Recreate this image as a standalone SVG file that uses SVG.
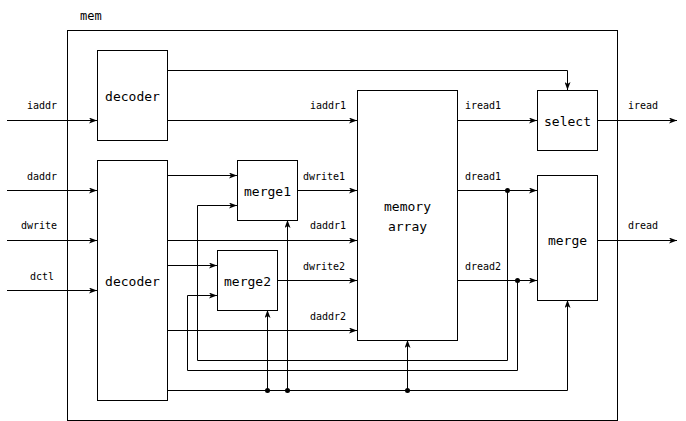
<svg xmlns="http://www.w3.org/2000/svg" width="686" height="421" viewBox="0 0 686 421">
<style>
.box{fill:#fff;stroke:#000;stroke-width:1}
.w{fill:none;stroke:#000;stroke-width:1}
.nt{font-family:"DejaVu Sans Mono",monospace;font-size:13px;text-anchor:middle;dominant-baseline:central;fill:#000}
.lb{font-family:"DejaVu Sans Mono",monospace;font-size:10px;fill:#000}
</style>
<defs>
<marker id="a" markerWidth="8" markerHeight="6" refX="8" refY="3" orient="auto" markerUnits="userSpaceOnUse">
<path d="M0,0 L8,3 L0,6 L2,3 Z" fill="#000"/>
</marker>
</defs>
<g id="mem">
<rect x="67.5" y="30.5" width="550" height="390" class="box"/>
<text x="80" y="20" class="lb" style="font-size:12px">mem</text>
</g>
<g id="connectors">
<path class="w" d="M7,120.5 H97" marker-end="url(#a)"/>
<path class="w" d="M7,190.5 H97" marker-end="url(#a)"/>
<path class="w" d="M7,240.5 H97" marker-end="url(#a)"/>
<path class="w" d="M7,290.5 H97" marker-end="url(#a)"/>
<path class="w" d="M167,70.5 H567.5 V90" marker-end="url(#a)"/>
<path class="w" d="M167,120.5 H357" marker-end="url(#a)"/>
<path class="w" d="M167,175.5 H237" marker-end="url(#a)"/>
<path class="w" d="M167,240.5 H357" marker-end="url(#a)"/>
<path class="w" d="M167,265.5 H217" marker-end="url(#a)"/>
<path class="w" d="M167,330.5 H357" marker-end="url(#a)"/>
<path class="w" d="M297,190.5 H357" marker-end="url(#a)"/>
<path class="w" d="M277,280.5 H357" marker-end="url(#a)"/>
<path class="w" d="M457,120.5 H537" marker-end="url(#a)"/>
<path class="w" d="M457,190.5 H537" marker-end="url(#a)"/>
<path class="w" d="M457,280.5 H537" marker-end="url(#a)"/>
<path class="w" d="M597,120.5 H677" marker-end="url(#a)"/>
<path class="w" d="M597,240.5 H677" marker-end="url(#a)"/>
<path class="w" d="M507.5,190.5 V360.5 H197.5 V205.5 H237" marker-end="url(#a)"/>
<path class="w" d="M517.5,280.5 V370.5 H187.5 V295.5 H217" marker-end="url(#a)"/>
<path class="w" d="M167,390.5 H567.5 V300" marker-end="url(#a)"/>
<path class="w" d="M267.5,390.5 V310" marker-end="url(#a)"/>
<path class="w" d="M287.5,390.5 V220" marker-end="url(#a)"/>
<path class="w" d="M407.5,390.5 V340" marker-end="url(#a)"/>
<circle cx="507.5" cy="190.5" r="2.5"/>
<circle cx="517.5" cy="280.5" r="2.5"/>
<circle cx="267.5" cy="390.5" r="2.5"/>
<circle cx="287.5" cy="390.5" r="2.5"/>
<circle cx="407.5" cy="390.5" r="2.5"/>
<text class="lb" x="27" y="109">iaddr</text>
<text class="lb" x="27" y="180">daddr</text>
<text class="lb" x="21" y="229">dwrite</text>
<text class="lb" x="30" y="280">dctl</text>
<text class="lb" x="310" y="109">iaddr1</text>
<text class="lb" x="303" y="180">dwrite1</text>
<text class="lb" x="310" y="229">daddr1</text>
<text class="lb" x="303" y="270">dwrite2</text>
<text class="lb" x="310" y="320">daddr2</text>
<text class="lb" x="465" y="109">iread1</text>
<text class="lb" x="465" y="180">dread1</text>
<text class="lb" x="465" y="270">dread2</text>
<text class="lb" x="628" y="109">iread</text>
<text class="lb" x="628" y="229">dread</text>
</g>
<g id="decoder1"><rect x="97.5" y="50.5" width="70" height="90" class="box"/><text x="132.5" y="96" class="nt">decoder</text></g>
<g id="decoder2"><rect x="97.5" y="160.5" width="70" height="240" class="box"/><text x="132.5" y="281" class="nt">decoder</text></g>
<g id="merge1"><rect x="237.5" y="160.5" width="60" height="60" class="box"/><text x="267.5" y="191" class="nt">merge1</text></g>
<g id="merge2"><rect x="217.5" y="250.5" width="60" height="60" class="box"/><text x="247.5" y="281" class="nt">merge2</text></g>
<g id="memory_array"><rect x="357.5" y="90.5" width="100" height="250" class="box"/><text x="407.5" y="206" class="nt">memory</text><text x="407.5" y="226" class="nt">array</text></g>
<g id="select"><rect x="537.5" y="90.5" width="60" height="60" class="box"/><text x="567.5" y="121" class="nt">select</text></g>
<g id="merge"><rect x="537.5" y="175.5" width="60" height="125" class="box"/><text x="567.5" y="240" class="nt">merge</text></g>
</svg>
